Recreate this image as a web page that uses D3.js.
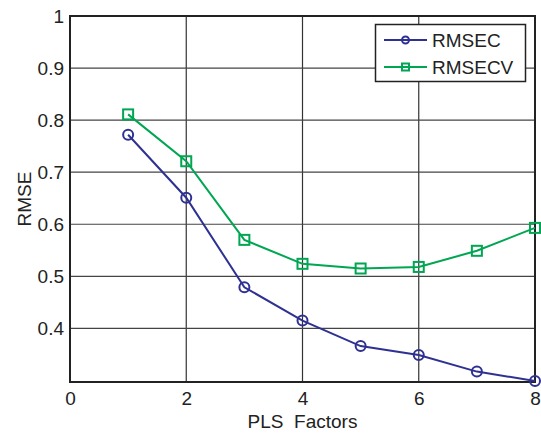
<!DOCTYPE html>
<html>
<head>
<meta charset="utf-8">
<script src="https://cdn.jsdelivr.net/npm/d3@7"></script>
<style>
  body { margin: 0; background: #fff; }
  text { font-family: "Liberation Sans", Arial, sans-serif; fill: #222; }
</style>
</head>
<body>
<svg id="chart" width="541" height="435"></svg>
<script>
// data
var factors = [1, 2, 3, 4, 5, 6, 7, 8];
var rmsec   = [0.772, 0.651, 0.479, 0.415, 0.366, 0.349, 0.317, 0.299];
var rmsecv  = [0.811, 0.721, 0.570, 0.524, 0.515, 0.518, 0.549, 0.593];
var xTicks  = [0, 2, 4, 6, 8];
var yTicks  = [0.4, 0.5, 0.6, 0.7, 0.8, 0.9, 1];
var seriesNames = ['RMSEC', 'RMSECV'];

var margin = {left: 70, top: 16, right: 6, bottom: 53};
var width = 541, height = 435;

var svg = d3.select('#chart');

var x = d3.scaleLinear().domain([0, 8]).range([margin.left, width - margin.right]);
var y = d3.scaleLinear().domain([0.297, 1]).range([height - margin.bottom, margin.top]);

var series = [
  {name: seriesNames[0], values: rmsec, color: '#2e3192', marker: 'circle'},
  {name: seriesNames[1], values: rmsecv, color: '#00a651', marker: 'square'}
];

// grid
var grid = svg.append('g').attr('class', 'grid');
grid.selectAll('line.gx').data(xTicks.slice(1, -1)).enter().append('line')
  .attr('x1', function(d) { return x(d); }).attr('x2', function(d) { return x(d); })
  .attr('y1', y.range()[0]).attr('y2', y.range()[1])
  .attr('stroke', '#333').attr('stroke-width', 1.2);
grid.selectAll('line.gy').data(yTicks.slice(0, -1)).enter().append('line')
  .attr('y1', function(d) { return y(d); }).attr('y2', function(d) { return y(d); })
  .attr('x1', x.range()[0]).attr('x2', x.range()[1])
  .attr('stroke', '#444').attr('stroke-width', 1.2);

// axes
var xAxis = d3.axisBottom(x).tickValues(xTicks).tickSize(0).tickPadding(10)
  .tickFormat(d3.format('d'));
var yAxis = d3.axisLeft(y).tickValues(yTicks).tickSize(0).tickPadding(6)
  .tickFormat(function(d) { return d === 1 ? '1' : d.toFixed(1); });

var gx = svg.append('g').attr('transform', 'translate(0,' + y.range()[0] + ')').call(xAxis);
var gy = svg.append('g').attr('transform', 'translate(' + x.range()[0] + ',0)').call(yAxis);
[gx, gy].forEach(function(g) {
  g.select('.domain').remove();
  g.selectAll('text').style('font-size', '19px').attr('fill', '#222');
});

// frame
svg.append('rect')
  .attr('x', x.range()[0]).attr('y', y.range()[1])
  .attr('width', x.range()[1] - x.range()[0])
  .attr('height', y.range()[0] - y.range()[1])
  .attr('fill', 'none').attr('stroke', '#222').attr('stroke-width', 2);

// axis titles
svg.append('text')
  .attr('x', (x.range()[0] + x.range()[1]) / 2).attr('y', 428)
  .attr('text-anchor', 'middle').style('font-size', '19px')
  .style('white-space', 'pre').attr('xml:space', 'preserve')
  .text('PLS  Factors');
svg.append('text')
  .attr('transform', 'translate(31,' + ((y.range()[0] + y.range()[1]) / 2) + ') rotate(-90)')
  .attr('text-anchor', 'middle').style('font-size', '19px')
  .text('RMSE');

// lines + markers
var line = d3.line()
  .x(function(d) { return x(d[0]); })
  .y(function(d) { return y(d[1]); });

function drawMarker(g, type, cx, cy, size, color) {
  if (type === 'circle') {
    g.append('circle').attr('cx', cx).attr('cy', cy).attr('r', size)
      .attr('fill', 'none').attr('stroke', color).attr('stroke-width', 2);
  } else {
    g.append('rect').attr('x', cx - size).attr('y', cy - size)
      .attr('width', size * 2).attr('height', size * 2)
      .attr('fill', 'none').attr('stroke', color).attr('stroke-width', 2);
  }
}

series.forEach(function(s) {
  var pts = factors.map(function(f, i) { return [f, s.values[i]]; });
  var g = svg.append('g');
  g.append('path').datum(pts).attr('d', line)
    .attr('fill', 'none').attr('stroke', s.color).attr('stroke-width', 2);
  pts.forEach(function(p) {
    drawMarker(g, s.marker, x(p[0]), y(p[1]), s.marker === 'circle' ? 5 : 5, s.color);
  });
});

// legend
var legend = svg.append('g');
legend.append('rect').attr('x', 375.5).attr('y', 24.5).attr('width', 150).attr('height', 57)
  .attr('fill', '#fff').attr('stroke', '#222').attr('stroke-width', 1.5);
series.forEach(function(s, i) {
  var ly = 40 + i * 27;
  legend.append('line').attr('x1', 384).attr('x2', 427).attr('y1', ly).attr('y2', ly)
    .attr('stroke', s.color).attr('stroke-width', 2);
  drawMarker(legend, s.marker, 405.5, ly, s.marker === 'circle' ? 3.5 : 3.5, s.color);
  legend.append('text').attr('x', 432).attr('y', ly + 7).style('font-size', '19px').text(s.name);
});
</script>
</body>
</html>
